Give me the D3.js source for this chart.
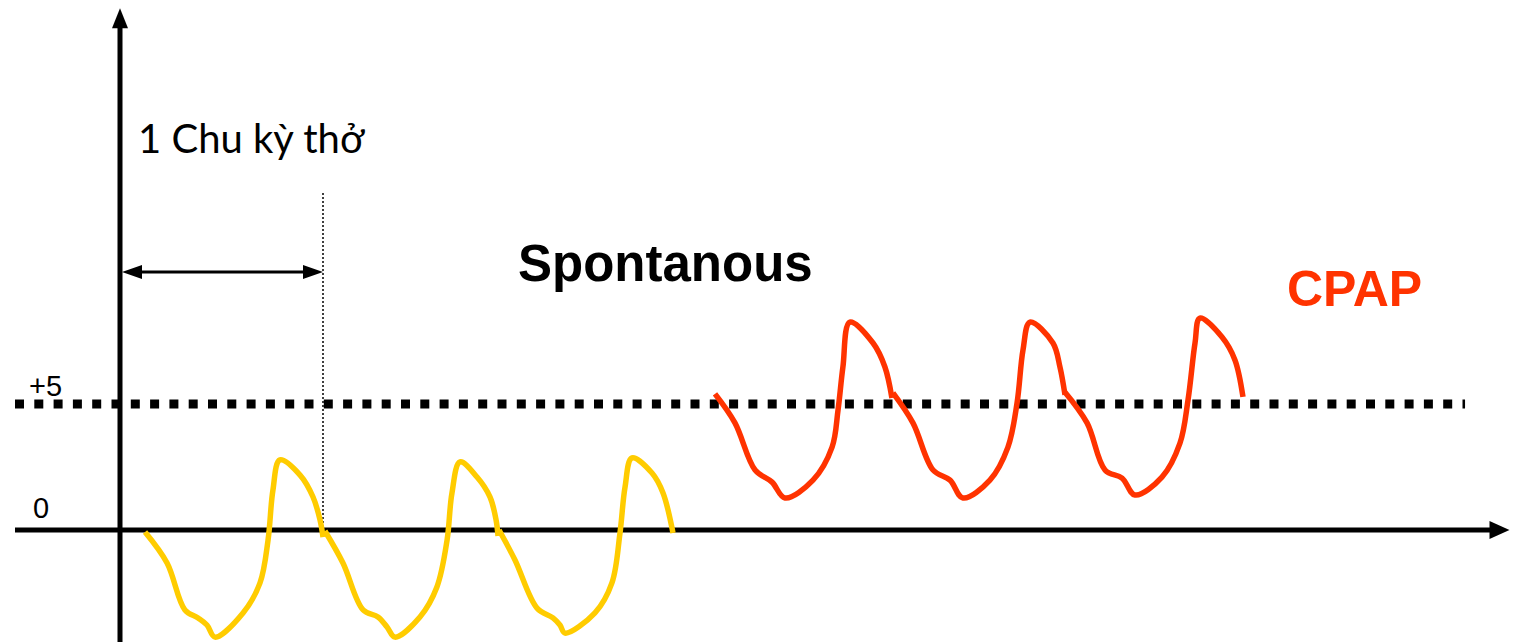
<!DOCTYPE html>
<html>
<head>
<meta charset="utf-8">
<script src="https://cdn.jsdelivr.net/npm/d3@7"></script>
<style>
html,body{margin:0;padding:0;background:#fff;}
svg{display:block;}
</style>
</head>
<body>
<svg id="chart" width="1513" height="642"></svg>
<script>
// ---- Data (time in arbitrary units, pressure in cmH2O) ----
const yTickValues = [0, 5];
const yTickLabels = ["0", "+5"];
const seriesLabels = ["Spontanous", "CPAP"];
const periodLabel = "1 Chu kỳ thở";
const periodEnd = 1.16;   // one breathing cycle length
const cpapLevel = 5;

// Spontaneous breathing (yellow), one array per cycle: [t, pressure]
const spontCycle1 = [[0.143,-0.08],[0.269,-1.31],[0.371,-3.17],[0.446,-3.49],[0.497,-3.77],[0.543,-4.25],[0.703,-3.29],[0.80,-2.10],[0.846,-0.40],[0.874,1.59],[0.914,2.78],[1.029,2.18],[1.103,1.31],[1.143,0.40],[1.16,-0.28]];
const spontCycle2 = [[1.171,-0.04],[1.274,-1.31],[1.389,-3.17],[1.474,-3.45],[1.526,-3.85],[1.571,-4.25],[1.714,-3.45],[1.811,-2.26],[1.869,-0.40],[1.897,1.47],[1.943,2.70],[2.040,2.10],[2.114,1.31],[2.149,0.40],[2.16,-0.24]];
const spontCycle3 = [[2.166,0.0],[2.257,-1.19],[2.383,-3.10],[2.474,-3.49],[2.514,-3.77],[2.543,-4.09],[2.714,-3.29],[2.811,-2.10],[2.857,-0.12],[2.886,1.71],[2.926,2.86],[3.040,2.26],[3.103,1.47],[3.160,-0.12]];

// CPAP breathing (red)
const cpapCycle1 = [[3.40,5.40],[3.514,4.25],[3.629,2.38],[3.726,1.90],[3.80,1.27],[3.96,1.98],[4.069,3.29],[4.103,4.76],[4.131,6.47],[4.171,8.25],[4.303,7.42],[4.371,6.47],[4.411,5.24]];
const cpapCycle2 = [[4.417,5.44],[4.531,4.25],[4.646,2.38],[4.743,1.98],[4.817,1.27],[4.971,1.98],[5.074,3.29],[5.126,5.04],[5.16,7.14],[5.20,8.25],[5.331,7.42],[5.371,6.47],[5.40,5.36]];
const cpapCycle3 = [[5.394,5.52],[5.526,4.25],[5.629,2.38],[5.726,2.06],[5.80,1.39],[5.954,2.10],[6.057,3.45],[6.103,5.16],[6.143,7.42],[6.171,8.41],[6.297,7.66],[6.371,6.75],[6.417,5.28]];

const spontCycles = [spontCycle1, spontCycle2, spontCycle3];
const cpapCycles = [cpapCycle1, cpapCycle2, cpapCycle3];

// ---- Scales ----
const x = d3.scaleLinear().domain([0, 8]).range([120, 1520]);
const y = d3.scaleLinear().domain([0, 5]).range([530, 404]);

const svg = d3.select("#chart");
const black = "#000";
const yellow = "#FFCC00";
const red = "#FF3300";

// x-axis
const xAxisStart = -0.6, xAxisEnd = 7.94;
svg.append("line").attr("x1", x(xAxisStart)).attr("x2", x(xAxisEnd) - 14)
  .attr("y1", y(0)).attr("y2", y(0)).attr("stroke", black).attr("stroke-width", 5);
svg.append("path")
  .attr("d", `M${x(xAxisEnd)},${y(0)} L${x(xAxisEnd)-20},${y(0)-9} L${x(xAxisEnd)-20},${y(0)+9} Z`)
  .attr("fill", black);

// y-axis
const yAxisBottom = -4.5, yAxisTop = 20.7;
svg.append("line").attr("x1", x(0)).attr("x2", x(0))
  .attr("y1", y(yAxisBottom)).attr("y2", y(yAxisTop) + 14)
  .attr("stroke", black).attr("stroke-width", 5);
svg.append("path")
  .attr("d", `M${x(0)},${y(yAxisTop)} L${x(0)-8},${y(yAxisTop)+20} L${x(0)+8},${y(yAxisTop)+20} Z`)
  .attr("fill", black);

// CPAP level dotted line
svg.append("line").attr("x1", x(xAxisStart)).attr("x2", x(7.686))
  .attr("y1", y(cpapLevel)).attr("y2", y(cpapLevel))
  .attr("stroke", black).attr("stroke-width", 9).attr("stroke-dasharray", "9,10.3");

// tick labels
svg.selectAll("text.ytick").data(yTickValues).join("text")
  .attr("class", "ytick")
  .attr("x", (d, i) => i === 0 ? 33 : 29)
  .attr("y", (d, i) => i === 0 ? y(d) - 12 : y(d) - 8)
  .attr("font-family", "Liberation Sans, Arial, sans-serif")
  .attr("font-size", 29)
  .attr("fill", black)
  .text((d, i) => yTickLabels[i]);

// period marker
svg.append("line").attr("x1", x(periodEnd)).attr("x2", x(periodEnd))
  .attr("y1", y(13.37)).attr("y2", y(0))
  .attr("stroke", black).attr("stroke-width", 1.5).attr("stroke-dasharray", "2,2");
const ay = y(10.24);
svg.append("line").attr("x1", x(0) + 14).attr("x2", x(periodEnd) - 14)
  .attr("y1", ay).attr("y2", ay).attr("stroke", black).attr("stroke-width", 3);
svg.append("path")
  .attr("d", `M${x(0)+2},${ay} L${x(0)+22},${ay-7} L${x(0)+22},${ay+7} Z M${x(periodEnd)},${ay} L${x(periodEnd)-20},${ay-7} L${x(periodEnd)-20},${ay+7} Z`)
  .attr("fill", black);
svg.append("text").attr("x", 138).attr("y", 153)
  .attr("font-family", "Lato, 'Open Sans', sans-serif")
  .attr("font-size", 40).attr("fill", black)
  .text(periodLabel);

// curves
const line = d3.line().x(d => x(d[0])).y(d => y(d[1])).curve(d3.curveCatmullRom.alpha(0.5));
svg.append("g").selectAll("path").data(spontCycles).join("path")
  .attr("d", line).attr("fill", "none").attr("stroke", yellow)
  .attr("stroke-width", 5.5).attr("stroke-linejoin", "miter");
svg.append("g").selectAll("path").data(cpapCycles).join("path")
  .attr("d", line).attr("fill", "none").attr("stroke", red)
  .attr("stroke-width", 5.5).attr("stroke-linejoin", "miter");

// series labels
svg.append("text").attr("x", 518).attr("y", 281)
  .attr("font-family", "Liberation Sans, Arial, sans-serif")
  .attr("font-weight", "bold").attr("font-size", 51).attr("fill", black)
  .text(seriesLabels[0]);
svg.append("text").attr("x", 1287).attr("y", 306)
  .attr("font-family", "Liberation Sans, Arial, sans-serif")
  .attr("font-weight", "bold").attr("font-size", 50).attr("fill", red)
  .text(seriesLabels[1]);
</script>
</body>
</html>
